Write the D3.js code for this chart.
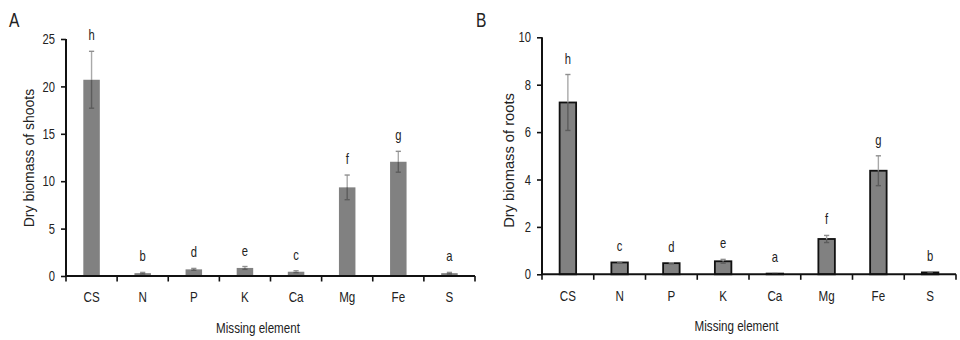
<!DOCTYPE html>
<html>
<head>
<meta charset="utf-8">
<script src="https://cdn.jsdelivr.net/npm/d3@7"></script>
<style>
  html, body { margin: 0; padding: 0; background: #fff; }
  svg { display: block; }
  text { font-family: "Liberation Sans", Arial, sans-serif; fill: #222; }
</style>
</head>
<body>
<svg id="chart" width="960" height="340"></svg>
<script>
// Missing-element treatments
const categories = ["CS", "N", "P", "K", "Ca", "Mg", "Fe", "S"];

// Dry biomass of shoots: means, error (SD) and significance letters
const shootMeans   = [20.7, 0.3, 0.7, 0.85, 0.45, 9.35, 12.05, 0.3];
const shootErr     = [3.0, 0.08, 0.1, 0.15, 0.1, 1.3, 1.1, 0.08];
const shootLetters = ["h", "b", "d", "e", "c", "f", "g", "a"];
const shootTicks   = [0, 5, 10, 15, 20, 25];

// Dry biomass of roots
const rootMeans   = [7.25, 0.5, 0.47, 0.55, 0.03, 1.49, 4.37, 0.08];
const rootErr     = [1.18, 0.02, 0.02, 0.08, 0.01, 0.15, 0.63, 0.02];
const rootLetters = ["h", "c", "d", "e", "a", "f", "g", "b"];
const rootTicks   = [0, 2, 4, 6, 8, 10];

const svg = d3.select("#chart");
const NARROW = 0.8; // horizontal condensing of the label type

// place a condensed text at (x, y)
function narrow(sel, x, y) {
  return sel.attr("x", 0).attr("y", 0)
    .attr("transform", (d, i) => {
      const xx = typeof x === "function" ? x(d, i) : x;
      const yy = typeof y === "function" ? y(d, i) : y;
      return `translate(${xx},${yy}) scale(${NARROW},1)`;
    });
}

function drawPanel(opt) {
  const g = svg.append("g");
  const x = d3.scaleBand().domain(categories).range([opt.x0, opt.x1]).paddingInner(0).paddingOuter(0);
  const y = d3.scaleLinear().domain([0, opt.max]).range([opt.yBase, opt.yTop]);
  const bw = 16.5;
  const cxOf = c => x(c) + x.bandwidth() / 2;

  const rows = categories.map((c, i) => ({ c, v: opt.means[i], e: opt.err[i], l: opt.letters[i] }));

  // bars
  g.selectAll("rect.bar").data(rows).join("rect")
    .attr("class", "bar")
    .attr("x", d => cxOf(d.c) - bw / 2)
    .attr("width", bw)
    .attr("y", d => y(d.v))
    .attr("height", d => y(0) - y(d.v))
    .attr("fill", "#818181")
    .attr("stroke", opt.outline ? "#111" : "none")
    .attr("stroke-width", opt.outline ? 1.8 : 0);

  // error bars: light above the bar, darker where they cross the bar
  const cap = 2.6;
  rows.forEach(d => {
    const cx = cxOf(d.c);
    const hi = y(d.v + d.e), mid = y(d.v), lo = y(Math.max(0, d.v - d.e));
    g.append("line").attr("x1", cx).attr("x2", cx).attr("y1", hi).attr("y2", mid)
      .attr("stroke", "#a9a9a9").attr("stroke-width", 1.4);
    g.append("line").attr("x1", cx - cap).attr("x2", cx + cap).attr("y1", hi).attr("y2", hi)
      .attr("stroke", "#8f8f8f").attr("stroke-width", 1.4);
    g.append("line").attr("x1", cx).attr("x2", cx).attr("y1", mid).attr("y2", lo)
      .attr("stroke", "#5c5c5c").attr("stroke-width", 1.4);
    g.append("line").attr("x1", cx - cap).attr("x2", cx + cap).attr("y1", lo).attr("y2", lo)
      .attr("stroke", "#5c5c5c").attr("stroke-width", 1.4);
  });

  // significance letters
  narrow(g.selectAll("text.letter").data(rows).join("text")
    .attr("class", "letter")
    .attr("text-anchor", "middle")
    .attr("font-size", 14)
    .text(d => d.l), d => cxOf(d.c), d => y(d.v + d.e) - 11);

  // y axis
  const yAxis = g.append("g")
    .attr("transform", `translate(${opt.x0},0)`)
    .call(d3.axisLeft(y).tickValues(opt.ticks).tickSize(5).tickPadding(6));
  yAxis.select(".domain").attr("stroke", "#111").attr("stroke-width", 2)
    .attr("d", `M0,${opt.yTop}V${opt.yBase}`);
  yAxis.selectAll(".tick line").attr("stroke", "#111").attr("stroke-width", 1.6);
  yAxis.selectAll(".tick text")
    .attr("font-size", 14).attr("fill", "#222").attr("font-family", null)
    .attr("x", 0).attr("dy", "0.33em")
    .attr("transform", `translate(-11,0) scale(${NARROW},1)`);

  // x axis with ticks at the category boundaries
  const xAxis = g.append("g").attr("transform", `translate(0,${opt.yBase})`);
  xAxis.append("line").attr("x1", opt.x0).attr("x2", opt.x1).attr("y1", 0).attr("y2", 0)
    .attr("stroke", "#111").attr("stroke-width", 2);
  const bounds = categories.map(c => x(c)).concat([opt.x1]);
  xAxis.selectAll("line.tk").data(bounds).join("line")
    .attr("class", "tk")
    .attr("x1", d => d).attr("x2", d => d).attr("y1", 0).attr("y2", 5.5)
    .attr("stroke", "#111").attr("stroke-width", 1.6);
  narrow(xAxis.selectAll("text.cat").data(categories).join("text")
    .attr("class", "cat")
    .attr("text-anchor", "middle")
    .attr("font-size", 14.5)
    .text(d => d), d => cxOf(d), 26.2);

  // axis titles
  narrow(g.append("text")
    .attr("text-anchor", "middle")
    .attr("font-size", 14.5)
    .text("Missing element"), (opt.x0 + opt.x1) / 2 - 12.5, opt.yBase + 57);
  g.append("text")
    .attr("transform", `translate(${opt.titleX},${opt.titleY}) rotate(-90)`)
    .attr("text-anchor", "middle")
    .attr("font-size", opt.titleSize)
    .text(opt.yTitle);

  // panel letter
  narrow(g.append("text")
    .attr("font-size", 19.5)
    .text(opt.panel), opt.panelX, 26.5);
}

drawPanel({
  x0: 66, x1: 475, yBase: 276, yTop: 39, max: 25,
  means: shootMeans, err: shootErr, letters: shootLetters, ticks: shootTicks,
  outline: false, yTitle: "Dry biomass of shoots", titleX: 34, titleY: 158, titleSize: 14,
  panel: "A", panelX: 9
});

drawPanel({
  x0: 542, x1: 956, yBase: 274.3, yTop: 37.3, max: 10,
  means: rootMeans, err: rootErr, letters: rootLetters, ticks: rootTicks,
  outline: true, yTitle: "Dry biomass of roots", titleX: 514, titleY: 160.5, titleSize: 14.7,
  panel: "B", panelX: 476
});
</script>
</body>
</html>
